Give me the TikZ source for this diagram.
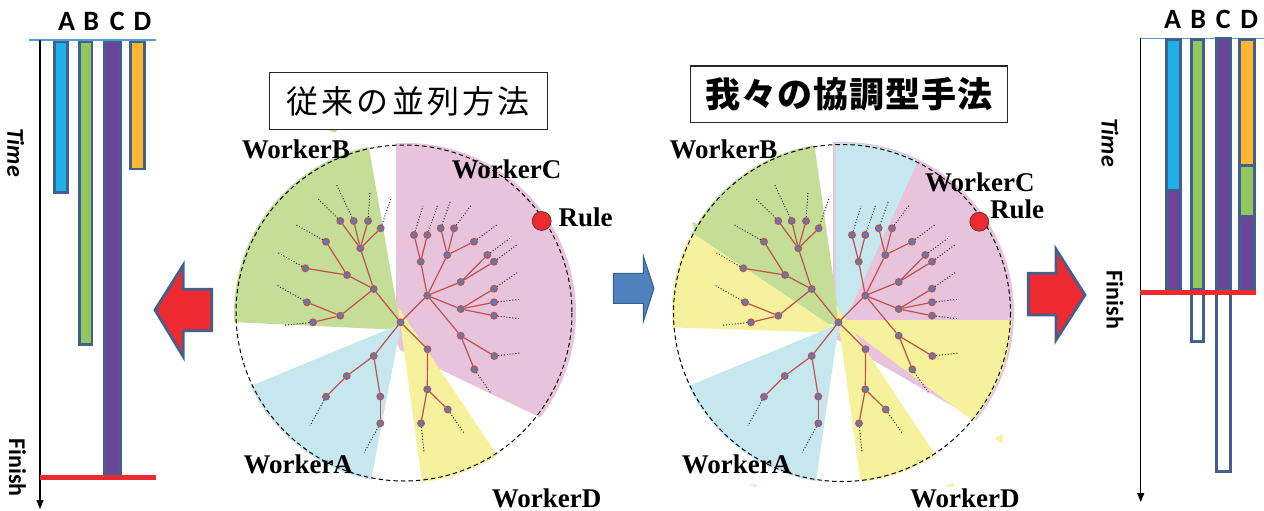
\documentclass[tikz,border=0pt]{standalone}
\usepackage{fontspec}
\setmainfont{Liberation Serif}
\newfontfamily\carl{Carlito}
\newfontfamily\cjk{Noto Sans CJK JP}
\usetikzlibrary{arrows.meta}
\definecolor{wgreen}{RGB}{196,221,151}
\definecolor{wpink}{RGB}{231,195,220}
\definecolor{wblue}{RGB}{198,231,238}
\definecolor{wyellow}{RGB}{246,241,156}
\definecolor{tnblue}{RGB}{79,129,189}
\definecolor{tnred}{RGB}{192,80,77}
\definecolor{bcyan}{RGB}{30,177,233}
\definecolor{bgreen}{RGB}{146,199,95}
\definecolor{bpurple}{RGB}{107,69,152}
\definecolor{borange}{RGB}{253,183,49}
\definecolor{bborder}{RGB}{65,96,143}
\definecolor{fred}{RGB}{237,42,47}
\definecolor{topline}{RGB}{91,155,213}
\definecolor{ablue}{RGB}{79,129,189}
\definecolor{ablueedge}{RGB}{56,93,138}
\tikzset{
  tn/.style={circle, fill=tnblue, draw=tnred, line width=1.2pt, inner sep=0pt, minimum size=6.6pt},
  te/.style={draw=tnred, line width=1.2pt},
  td/.style={dotted, line width=0.9pt, black},
  wlabel/.style={inner sep=0pt, anchor=base west, font=\fontsize{27}{30}\selectfont\bfseries},
  ruledot/.style={circle, fill=fred, draw=black!80, line width=0.6pt, minimum size=19pt, inner sep=0pt},
  titlebox/.style={draw=black!85, line width=1.1pt, fill=white, inner sep=0pt, minimum height=56.3pt},
  bar/.style={draw=bborder, line width=2.6pt},
  finishline/.style={draw=fred, line width=5pt},
  tline/.style={draw=topline, line width=1.2pt},
  axis/.style={draw=black, line width=1.2pt, -{Triangle[length=9pt,width=7pt]}},
  abcd/.style={inner sep=0pt, anchor=base, font=\carl\fontsize{28}{30}\selectfont\bfseries},
  tlab/.style={inner sep=0pt, rotate=-90, font=\carl\fontsize{24}{26}\selectfont\bfseries},
  redarrow/.style={fill=fred, draw=bborder, line width=2.8pt, line join=miter},
  bluearrow/.style={fill=ablue, draw=ablueedge, line width=1pt, line join=miter},
  dcircle/.style={draw=black, line width=1pt, dash pattern=on 4.5pt off 3pt},
  tree/.pic={
    \node[tn] (-r) at (0,0) {};
    \node[tn] (-n1) at (-26.8,-33.3) {};
    \node[tn] (-n2) at (-40.2,-74) {};
    \node[tn] (-b1) at (-60.2,-101.3) {};
    \node[tn] (-b2) at (-46.8,-101.3) {};
    \node[tn] (-b3) at (-32.5,-101.3) {};
    \node[tn] (-b4) at (-19.8,-94) {};
    \node[tn] (-n3) at (-53.5,-47.3) {};
    \node[tn] (-b5) at (-74.5,-80.6) {};
    \node[tn] (-b6) at (-95.2,-54) {};
    \node[tn] (-n4) at (-60.2,-6.6) {};
    \node[tn] (-b7) at (-93.5,-20) {};
    \node[tn] (-b8) at (-87.5,0) {};
    \node[tn] (-c1) at (26.8,-26.8) {};
    \node[tn] (-c2) at (20.2,-60.6) {};
    \node[tn] (-c21) at (13.5,-87.3) {};
    \node[tn] (-c22) at (26.8,-87.3) {};
    \node[tn] (-c3) at (46.8,-67.3) {};
    \node[tn] (-c31) at (40.2,-94) {};
    \node[tn] (-c32) at (53.5,-94) {};
    \node[tn] (-c33) at (73.5,-80.6) {};
    \node[tn] (-c4) at (60.2,-40.3) {};
    \node[tn] (-c41) at (86.8,-67.3) {};
    \node[tn] (-c42) at (93.5,-60.6) {};
    \node[tn] (-c5) at (60.2,-13.3) {};
    \node[tn] (-c51) at (93.5,-33.6) {};
    \node[tn] (-c52) at (93.5,-20) {};
    \node[tn] (-c53) at (93.5,-6.6) {};
    \node[tn] (-c6) at (60.2,13.4) {};
    \node[tn] (-c61) at (93.8,33.7) {};
    \node[tn] (-c62) at (73.8,47) {};
    \node[tn] (-d1) at (27,26.9) {};
    \node[tn] (-d2) at (26.8,67) {};
    \node[tn] (-d21) at (20.5,101) {};
    \node[tn] (-d22) at (47.2,87.2) {};
    \node[tn] (-a1) at (-26.8,33.7) {};
    \node[tn] (-a2) at (-53.8,53.7) {};
    \node[tn] (-a3) at (-74.5,74.4) {};
    \node[tn] (-a4) at (-20.2,74.2) {};
    \node[tn] (-a5) at (-20.2,101) {};
    \foreach \p/\q in {r/n1, n1/n2, n2/b1, n2/b2, n2/b3, n2/b4, n1/n3, n3/b5, n3/b6, n1/n4, n4/b7, n4/b8,
      r/c1, c1/c2, c2/c21, c2/c22, c1/c3, c3/c31, c3/c32, c3/c33, c1/c4, c4/c41, c4/c42,
      c1/c5, c5/c51, c5/c52, c5/c53, c1/c6, c6/c61, c6/c62,
      r/d1, d1/d2, d2/d21, d2/d22, r/a1, a1/a2, a2/a3, a1/a4, a4/a5}
      \draw[te] (-\p) -- (-\q);
    \foreach \n/\dx/\dy in {b1/-23/-23, b2/-17/-36, b3/2/-29, b4/10/-29, b5/-30/-17, b6/-28/-16, b7/-30/-17, b8/-29/3,
      c21/9/-29, c22/10/-29, c31/10/-28, c32/17/-23, c33/23/-17, c41/23/-17, c42/23/-17, c51/23/-16,
      c52/26/-3, c53/26/3, c61/26/-3, c62/16/23, d21/3/29, d22/16/23, a3/-16/29, a5/-16/29}
      \draw[td] (-\n) -- ++(\dx,\dy);
  }
}
\begin{document}
\begin{tikzpicture}[x=1pt,y=-1pt]
\useasboundingbox (0,0) rectangle (1264,511);

% ---------- left time chart ----------
\coordinate (lax0) at (40,40);
\coordinate (lax1) at (40,509);
\draw[tline] (29,40) -- (156,40);
\filldraw[bar, fill=bcyan] (54.6,42) rectangle (67.7,192.7);
\filldraw[bar, fill=bgreen] (79.6,42) rectangle (92,344.4);
\filldraw[bar, fill=bpurple] (104.6,42) rectangle (120.4,474);
\filldraw[bar, fill=borange] (130.3,42) rectangle (144.4,169);
\draw[axis] (lax0) -- (lax1);
\draw[finishline] (40,477.5) -- (156,477.5);
\node[abcd] (lA) at (66.7,30.7) {A};
\node[abcd] (lB) at (91.3,30.7) {B};
\node[abcd] (lC) at (117.2,30.7) {C};
\node[abcd] (lD) at (142.5,30.7) {D};
\node[tlab, font=\carl\fontsize{24}{26}\selectfont\bfseries\itshape] (lTime) at (15.8,152.5) {Time};
\node[tlab] (lFinish) at (17.5,467.5) {Finish};

% ---------- right time chart ----------
\coordinate (rax0) at (1140.7,38.3);
\coordinate (rax1) at (1140.7,502);
\draw[tline] (1140,38.3) -- (1264,38.3);
\filldraw[bar, fill=bcyan] (1166.4,39.6) rectangle (1180.3,190);
\filldraw[bar, fill=bpurple] (1166.4,190) rectangle (1180.3,289);
\filldraw[bar, fill=bgreen] (1191.3,39.6) rectangle (1203.7,289);
\filldraw[bar, fill=white] (1191.3,289) rectangle (1203.7,341.4);
\filldraw[bar, fill=bpurple] (1216.3,38.6) rectangle (1230.3,289);
\filldraw[bar, fill=white] (1216.3,289) rectangle (1230.3,471.4);
\filldraw[bar, fill=borange] (1239.6,39.6) rectangle (1254.3,165.7);
\filldraw[bar, fill=bgreen] (1239.6,165.7) rectangle (1254.3,216);
\filldraw[bar, fill=bpurple] (1239.6,216) rectangle (1254.3,289);
\draw[axis] (rax0) -- (rax1);
\draw[finishline] (1140,292.5) -- (1256,292.5);
\node[abcd] (rA) at (1172.5,29) {A};
\node[abcd] (rB) at (1198.3,29) {B};
\node[abcd] (rC) at (1223.3,29) {C};
\node[abcd] (rD) at (1249.2,29) {D};
\node[tlab, font=\carl\fontsize{24}{26}\selectfont\bfseries\itshape] (rTime) at (1110,142.5) {Time};
\node[tlab] (rFinish) at (1115,300) {Finish};

% ---------- block arrows ----------
\draw[redarrow] (155,310) -- (183.3,265) -- (183.3,289.3) -- (211.7,289.3) -- (211.7,330.7) -- (183.3,330.7) -- (183.3,356.7) -- cycle;
\draw[bluearrow] (613.3,273.3) -- (643.3,273.3) -- (643.3,256) -- (654,288.3) -- (643.3,321.7) -- (643.3,303.3) -- (613.3,303.3) -- cycle;
\draw[redarrow] (1028.3,273.3) -- (1056,273.3) -- (1056,249.3) -- (1085,295) -- (1056,340) -- (1056,315) -- (1028.3,315) -- cycle;

% ---------- left circle wedges ----------
\begin{scope}
  \clip (406,313) circle[radius=170];
  \fill[wpink] (396,90) -- (396,340) -- (400,350) -- (737.5,512.5) -- (737.5,90) -- cycle;
\end{scope}
\begin{scope}
  \clip (404,313) circle[radius=170];
  \fill[wgreen] (401,330) -- (60,314) -- (60,60) -- (353.5,60) -- cycle;
  \fill[wblue] (401,324) -- (105,446) -- (105,560) -- (355.7,560) -- cycle;
  \fill[wyellow] (398,307) -- (432.7,560) -- (567.2,560) -- cycle;
\end{scope}
\fill[wgreen] (326,129.3) -- (338.3,129.3) -- (335,132.7) -- cycle;
\draw[dcircle] (404,313) circle[radius=168];

% ---------- right circle wedges ----------
\begin{scope}
  \clip (843,313) circle[radius=171];
  \fill[wpink] (833,90) -- (833,338) -- (838,340) -- (1060,468) -- (1060,90) -- cycle;
\end{scope}
\begin{scope}
  \clip (842,313) circle[radius=170];
  \fill[wblue] (835.5,60) -- (835.5,322) -- (844.3,322) -- (964.3,60) -- cycle;
  \fill[wgreen] (840,325) -- (548,300) -- (548,60) -- (802.3,60) -- cycle;
  \fill[wyellow] (842,333) -- (598,170) -- (598,325) -- cycle;
  \fill[wyellow] (838,320) -- (1060,320) -- (1060,486) -- cycle;
  \fill[wyellow] (836,305) -- (871.4,560) -- (1005.1,560) -- cycle;
  \fill[wblue] (839,324) -- (543,446) -- (543,560) -- (804.3,560) -- cycle;
\end{scope}
\fill[wgreen] (692.5,222) -- (697,224) -- (695.5,234) -- cycle;
\fill[wyellow] (995,438.3) -- (1002.7,434) -- (1002.7,444) -- cycle;
\fill[wyellow] (945,486.7) -- (953.3,482.7) -- (954,486.7) -- cycle;
\fill[wblue] (748.3,484) -- (756.7,485) -- (756.7,487) -- cycle;
\draw[dcircle] (842,313) circle[radius=168.5];

% ---------- trees ----------
\pic (L) at (400.5,322.3) {tree};
\pic (R) at (838.5,322.3) {tree};

% ---------- worker labels ----------
\node[wlabel] (lwB) at (241.7,158.3) {WorkerB};
\node[wlabel] (lwC) at (451.7,178.3) {WorkerC};
\node[wlabel] (lwR) at (558.3,226.7) {Rule};
\node[ruledot] (ldot) at (541.7,221) {};
\node[wlabel] (lwA) at (243.3,473.3) {WorkerA};
\node[wlabel] (lwD) at (491.7,507) {WorkerD};

\node[wlabel] (rwB) at (669.3,158.3) {WorkerB};
\node[wlabel] (rwC) at (925,191.7) {WorkerC};
\node[wlabel] (rwR) at (990,218.3) {Rule};
\node[ruledot] (rdot) at (979.3,221.7) {};
\node[wlabel] (rwA) at (681.7,473.3) {WorkerA};
\node[wlabel] (rwD) at (910,507) {WorkerD};

% ---------- titles ----------
\node[titlebox, minimum width=278.3pt] (t1) at (408.2,100.9)
  {\cjk\addfontfeature{LetterSpace=10}\fontsize{32}{34}\selectfont 従来の並列方法};
\node[titlebox, minimum width=317pt] (t2) at (849.2,94.2)
  {\cjk\bfseries\addfontfeature{LetterSpace=3}\fontsize{35}{37}\selectfont 我々の協調型手法};
\end{tikzpicture}
\end{document}
